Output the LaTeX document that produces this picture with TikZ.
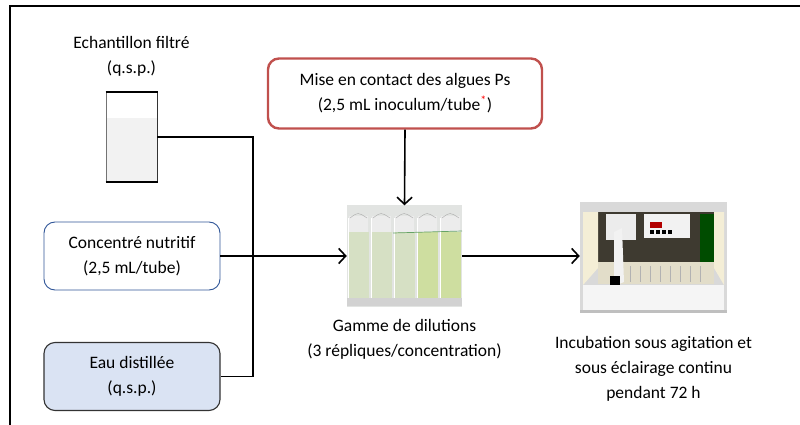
\documentclass[tikz,border=0pt]{standalone}
\usepackage{fontspec}
\setmainfont{Carlito}
\usetikzlibrary{
  arrows, arrows.meta, positioning,
  shapes.geometric
}

\definecolor{redline}{RGB}{192,80,77}
\definecolor{blueline}{RGB}{47,85,151}
\definecolor{bluefill}{RGB}{218,227,243}
\definecolor{vialbg}{RGB}{226,228,226}
\definecolor{vialgreen}{RGB}{214,224,196}
\definecolor{vialdeep}{RGB}{206,222,160}
\definecolor{incubdark}{RGB}{62,58,48}
\definecolor{incubcream}{RGB}{244,238,214}

\begin{document}
\begin{tikzpicture}[x=1pt,y=-1pt,
    font=\fontsize{17.5}{25}\selectfont,
    box/.style={draw, rounded corners=11pt, minimum width=176pt, minimum height=68pt, align=center, inner sep=0pt},
    photo/.style={inner sep=0pt},
    lbl/.style={align=center, inner sep=0pt},
    conn/.style={line width=1.6pt},
    flow/.style={conn, -{Straight Barb[length=7pt,width=15pt]}}]
      \useasboundingbox (0,0) rectangle (800,425);
      \draw[line width=2.4pt] (10,425) -- (10,6) -- (800,6); % frame

      % beaker with the filtered sample
      \fill[gray!10] (106,118) rectangle (157,182);
      \node[photo, minimum width=51pt, minimum height=90pt] (flask) at (131.5,137) {};
      \draw[black!55, line width=0.8pt] (106,92) -- (106,182);
      \draw[black!80, line width=0.8pt] (157,92) -- (157,182);
      \draw[line width=1.5pt] (105.5,92) -- (157.5,92);
      \draw[line width=1.5pt] (105.5,182) -- (157.5,182);
      \node[lbl, above=15pt of flask] (sample) {Echantillon filtré\\(q.s.p.)};

      % inputs
      \node[box, draw=blueline, line width=0.9pt] (nutri) at (132,256) {Concentré nutritif\\(2,5 mL/tube)};
      \node[box, draw=black!80, fill=bluefill, line width=1.1pt] (water) at (132,376.5) {Eau distillée\\(q.s.p.)};
      \node[box, draw=redline, line width=2.4pt, minimum width=274pt, minimum height=70pt] (algae) at (405,93.5)
        {Mise en contact des algues Ps\\(2,5 mL inoculum/tube\textsuperscript{\textcolor{red}{\large *}})};

      % dilution range (vials)
      \node[photo, minimum width=115pt, minimum height=101pt] (vials) at (404.5,256) {};
      \fill[vialbg] (vials.north west) rectangle (vials.south east);
      \foreach \x/\c in {347/vialgreen,370/vialgreen,393/vialgreen,416/vialdeep,439/vialdeep} {
        \fill[white!85!gray] (\x+2,216) rectangle (\x+21,232);
        \fill[\c] (\x+1,232) rectangle (\x+22,298);
        \draw[white, line width=0.6pt] (\x+1.5,218) -- (\x+1.5,298);
        \draw[gray!60, line width=0.5pt] (\x+3,218) .. controls (\x+11,212) .. (\x+20,218);
      }
      \draw[green!40!black!60, line width=0.7pt] (393,233) -- (462,231);
      \fill[gray!35] (347,298) rectangle (462,306);
      \node[lbl, below=12pt of vials] (range) {Gamme de dilutions\\(3 répliques/concentration)};

      % incubator
      \node[photo, minimum width=147pt, minimum height=111pt] (incub) at (653.5,257.5) {};
      \fill[gray!30] (incub.north west) rectangle (incub.south east);
      \fill[incubdark] (590,212) rectangle (718,268);
      \fill[gray!15] (606,214) rectangle (636,240);
      \fill[gray!10] (644,214) rectangle (690,238);
      \fill[red!70!black] (650,222) rectangle (662,228);
      \foreach \x in {650,656,662,668} \fill[black] (\x,230) rectangle (\x+4,234);
      \fill[green!30!black] (700,214) rectangle (716,262);
      \fill[incubcream] (583,212) -- (598,212) -- (598,268) -- (583,285) -- cycle;
      \fill[incubcream] (724,212) -- (714,212) -- (714,268) -- (724,285) -- cycle;
      \fill[incubcream!85!gray] (598,262) rectangle (714,284);
      \foreach \x in {620,630,...,700} \draw[gray!60, line width=0.5pt] (\x,266) -- (\x,282);
      \fill[white!90!gray] (614,232) -- (622,228) -- (624,282) -- (614,286) -- cycle;
      \fill[black] (610,276) rectangle (620,286);
      \fill[white!92!gray] (583,285) rectangle (724,310);
      \fill[gray!50] (580,310) rectangle (727,313);
      \node[lbl, below=23pt of incub] (incubtext) {Incubation sous agitation et\\sous éclairage continu\\pendant 72 h};

      % connectors
      \coordinate (bus) at (253,256);
      \draw[conn] (flask.east) -| (bus) |- (water.east);
      \draw[flow] (nutri.east) -- (vials.west);
      \draw[flow] (algae.south) -- (vials.north);
      \draw[flow] (vials.east) -- (incub.west |- vials.east);
    \end{tikzpicture}
\end{document}
